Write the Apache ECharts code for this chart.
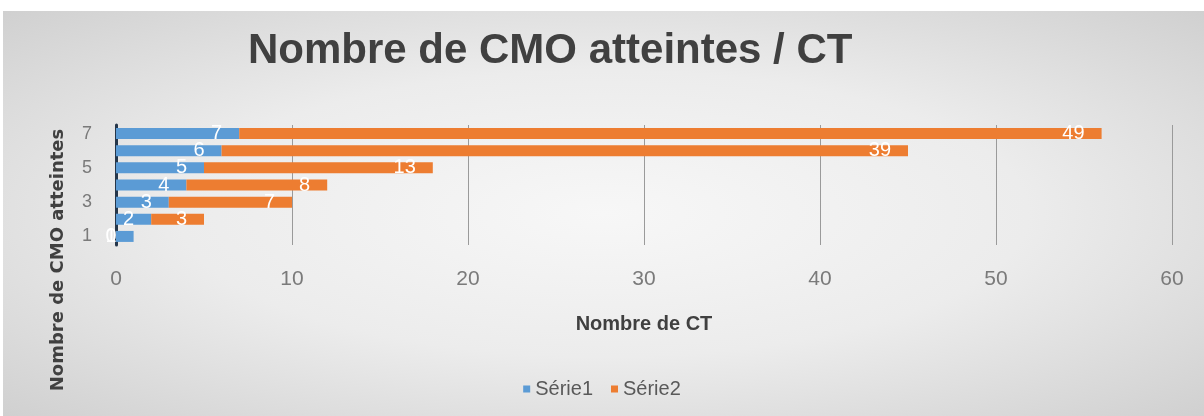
<!DOCTYPE html>
<html>
<head>
<meta charset="utf-8">
<script src="https://cdn.jsdelivr.net/npm/echarts@6.0.0/dist/echarts.min.js"></script>
<style>
  body { margin: 0; background: #fff; }
  #bg { position: absolute; left: 3px; top: 11px; width: 1201px; height: 405px;
        background: radial-gradient(ellipse at 50% 50%, #f7f7f7 0%, #ececec 50%, #d0d0d0 100%); }
  #chart { position: absolute; left: 0; top: 0; width: 1204px; height: 416px; }
</style>
</head>
<body>
<div id="bg"></div>
<div id="chart"></div>
<script>
// données
var categories = ['1', '2', '3', '4', '5', '6', '7'];
var serie1 = [1, 2, 3, 4, 5, 6, 7];
var serie2 = [0, 3, 7, 8, 13, 39, 49];

var chart = echarts.init(document.getElementById('chart'), null, { renderer: 'canvas' });

var barLabel = {
  show: true,
  position: 'insideRight',
  distance: 17,
  color: '#fff',
  fontFamily: 'Liberation Sans',
  fontSize: 20
};

var option = {
  backgroundColor: 'transparent',
  animation: false,
  title: {
    text: 'Nombre de CMO atteintes / CT',
    left: 243,
    top: 25,
    textStyle: {
      fontFamily: 'Liberation Sans',
      fontWeight: 'bold',
      fontSize: 42,
      color: '#404040'
    }
  },
  legend: {
    data: ['Série1', 'Série2'],
    left: 'center',
    top: 374,
    itemWidth: 7,
    itemHeight: 7,
    itemGap: 18,
    icon: 'rect',
    textStyle: { fontFamily: 'Liberation Sans', fontSize: 20, color: '#595959' }
  },
  graphic: [{
    type: 'text',
    x: 58,
    y: 260,
    rotation: Math.PI / 2,
    style: {
      text: 'Nombre de CMO atteintes',
      fontFamily: 'DejaVu Sans',
      fontWeight: 'bold',
      fontSize: 18,
      fill: '#404040',
      align: 'center',
      verticalAlign: 'middle'
    }
  }],
  grid: { left: 116, right: 32, top: 125, bottom: 171, containLabel: false },
  xAxis: {
    type: 'value',
    min: 0,
    max: 60,
    interval: 10,
    name: 'Nombre de CT',
    nameLocation: 'middle',
    nameGap: 69,
    nameTextStyle: { fontFamily: 'Liberation Sans', fontWeight: 'bold', fontSize: 20, color: '#404040' },
    axisLine: { show: false },
    axisTick: { show: false },
    axisLabel: { margin: 24, fontFamily: 'Liberation Sans', fontSize: 21, color: '#7a7a7a' },
    splitLine: { lineStyle: { color: '#9a9a9a', width: 1 } }
  },
  yAxis: {
    type: 'category',
    data: categories,
    axisLine: { lineStyle: { color: '#25364a', width: 3 } },
    axisTick: { show: false },
    axisLabel: { interval: 1, margin: 24, fontFamily: 'Liberation Sans', fontSize: 18, color: '#7a7a7a' }
  },
  series: [{
    name: 'Série1',
    type: 'bar',
    stack: 'total',
    barWidth: 11,
    itemStyle: { color: '#5b9bd5' },
    label: barLabel,
    data: serie1
  }, {
    name: 'Série2',
    type: 'bar',
    stack: 'total',
    barWidth: 11,
    itemStyle: { color: '#ed7d31' },
    label: barLabel,
    data: serie2
  }]
};

chart.setOption(option);
</script>
</body>
</html>
